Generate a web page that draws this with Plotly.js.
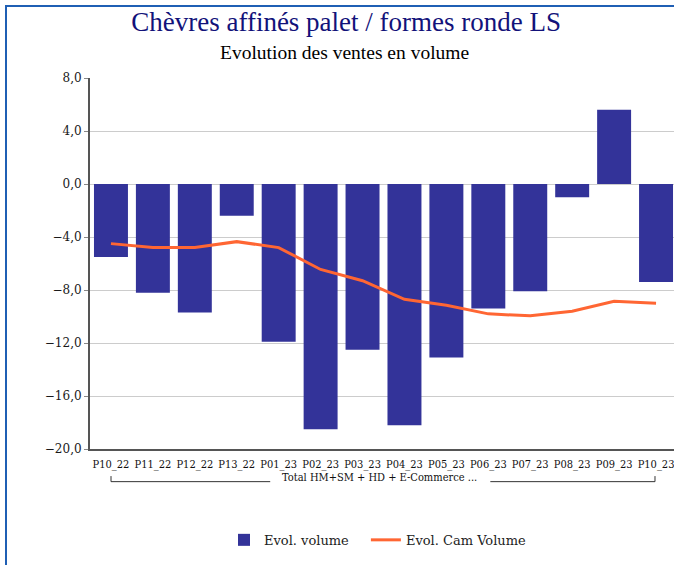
<!DOCTYPE html>
<html>
<head>
<meta charset="utf-8">
<script src="https://cdn.plot.ly/plotly-3.0.1.min.js"></script>
<style>
html, body { margin: 0; padding: 0; overflow: hidden; background: #fff; width: 674px; height: 565px; }
#frame { position: absolute; left: 5px; top: 5px; width: 700px; height: 600px; border-left: 2px solid #1f5fb4; border-top: 2px solid #1f5fb4; pointer-events: none; z-index: 10; }
#chart { position: absolute; left: 0; top: 0; }
</style>
</head>
<body>
<div id="chart"></div>
<div id="frame"></div>
<script>
const categories = ["P10_22","P11_22","P12_22","P13_22","P01_23","P02_23","P03_23","P04_23","P05_23","P06_23","P07_23","P08_23","P09_23","P10_23"];
const evolVolume = [-5.5, -8.2, -9.7, -2.4, -11.9, -18.5, -12.5, -18.2, -13.1, -9.4, -8.1, -1.0, 5.6, -7.4];
const evolCamVolume = [-4.5, -4.8, -4.8, -4.35, -4.8, -6.45, -7.3, -8.7, -9.15, -9.8, -9.95, -9.6, -8.85, -9.0];
const yTicks = [-20, -16, -12, -8, -4, 0, 4, 8];
const groupLabel = "Total HM+SM + HD + E-Commerce ...";
const mainTitle = "Chèvres affinés palet / formes ronde LS";
const subTitle = "Evolution des ventes en volume";

const traces = [
  {
    type: "bar", name: "Evol. volume", x: categories, y: evolVolume,
    marker: { color: "#333399" }, hoverinfo: "x+y", legend: "legend"
  },
  {
    type: "scatter", mode: "lines", name: "Evol. Cam Volume", x: categories, y: evolCamVolume,
    line: { color: "#ff6633", width: 3 }, hoverinfo: "x+y", legend: "legend2"
  }
];

const legendFont = { family: "DejaVu Serif", size: 13, color: "#222" };
const condFont = { family: "DejaVu Serif Condensed", size: 11, color: "#111" };

const layout = {
  width: 680, height: 565,
  margin: { l: 90, r: 3, t: 78, b: 116 },
  paper_bgcolor: "#ffffff", plot_bgcolor: "#ffffff",
  separators: ", ",
  bargap: 0.19,
  showlegend: true,
  title: {
    text: mainTitle,
    font: { family: "Liberation Serif", size: 27, color: "#12127a" },
    x: 0.509, xanchor: "center", y: 0.961, yanchor: "middle", xref: "container", yref: "container"
  },
  xaxis: {
    type: "category",
    tickfont: condFont,
    ticklabelstandoff: 4,
    showline: true, linecolor: "#555", linewidth: 2,
    ticks: "", showgrid: false, fixedrange: true
  },
  yaxis: {
    range: [-20, 8], tickvals: yTicks, tickformat: ".1f",
    tickfont: { family: "DejaVu Serif", size: 12, color: "#1a1a1a" },
    showline: true, linecolor: "#555", linewidth: 2,
    ticks: "outside", ticklen: 4, tickcolor: "#888",
    showgrid: true, gridcolor: "#cccccc", gridwidth: 1,
    zeroline: false, fixedrange: true
  },
  legend: {
    orientation: "h", x: 0.2283, xanchor: "left", y: -0.245, yanchor: "middle",
    font: legendFont
  },
  legend2: {
    orientation: "h", x: 0.470, xanchor: "left", y: -0.245, yanchor: "middle",
    font: legendFont
  },
  annotations: [
    {
      text: subTitle, xref: "paper", yref: "paper", x: 0.434, y: 1.07,
      xanchor: "center", yanchor: "middle", showarrow: false,
      font: { family: "Liberation Serif", size: 19.5, color: "#000" }
    },
    {
      text: groupLabel, xref: "paper", yref: "paper", x: 0.494, y: -0.077,
      xanchor: "center", yanchor: "middle", showarrow: false,
      font: condFont
    }
  ],
  shapes: [
    { type: "line", xref: "paper", yref: "paper", x0: 0.0358, x1: 0.0358, y0: -0.073, y1: -0.088, line: { color: "#333", width: 1 } },
    { type: "line", xref: "paper", yref: "paper", x0: 0.0358, x1: 0.307, y0: -0.088, y1: -0.088, line: { color: "#333", width: 1 } },
    { type: "line", xref: "paper", yref: "paper", x0: 0.682, x1: 0.9625, y0: -0.088, y1: -0.088, line: { color: "#333", width: 1 } },
    { type: "line", xref: "paper", yref: "paper", x0: 0.9625, x1: 0.9625, y0: -0.073, y1: -0.088, line: { color: "#333", width: 1 } }
  ]
};

Plotly.newPlot("chart", traces, layout, { displayModeBar: false, staticPlot: true });
</script>
</body>
</html>
